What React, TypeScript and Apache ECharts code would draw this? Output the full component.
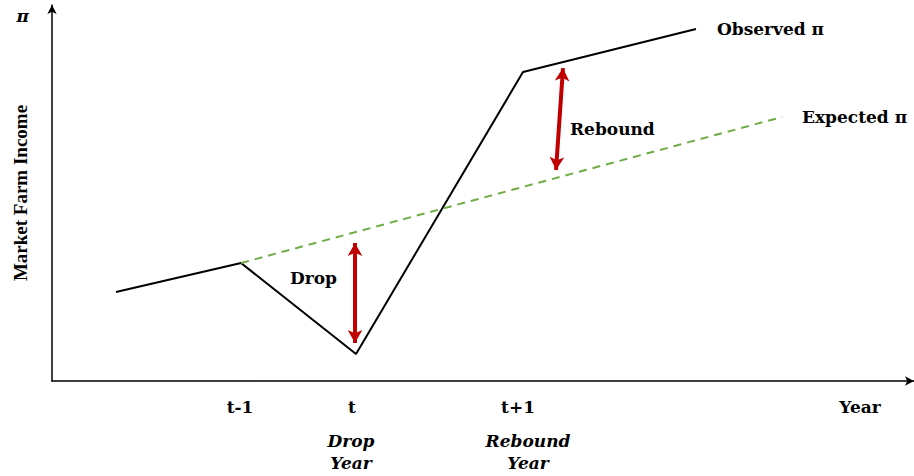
import React, { useEffect, useRef } from "react";
import * as echarts from "echarts";

// Conceptual diagram, axis units 0..100 on both axes
const observedX = [7.42, 21.93, 35.27, 54.64, 74.71];
const observedY = [23.67, 31.38, 7.18, 82.18, 93.62];
const expectedX = [21.93, 84.69];
const expectedY = [31.38, 70.21];

const xTickValues = [21.81, 34.8, 54.06, 93.74];
const xTickLabels = ["t-1", "t", "t+1", "Year"];
const yTickValues = [97.07];
const yTickLabels = ["π"];

const yearNoteX = [34.69, 55.22];
const yearNoteY = [-18.88, -18.88];
const yearNoteText = ["Drop\nYear", "Rebound\nYear"];

const gapNoteX = [27.61, 60.09];
const gapNoteY = [27.39, 67.02];
const gapNoteText = ["Drop", "Rebound"];

const dropArrow = [[35.15, 36.7], [35.15, 10.11]];
const reboundArrow = [[59.28, 83.24], [58.47, 56.12]];

const SERIF = "'DejaVu Serif', serif";

function pick(values: number[], labels: string[], v: number) {
  let best = 0;
  values.forEach((x, i) => {
    if (Math.abs(x - v) < Math.abs(values[best] - v)) best = i;
  });
  return labels[best];
}

export default function App() {
  const ref = useRef<HTMLDivElement>(null);
  useEffect(() => {
    document.body.style.margin = "0";
    const chart = echarts.init(ref.current!, null, { renderer: "svg" });
    const textStyle = { fontFamily: SERIF, fontWeight: "bold", fontSize: 17, color: "#000" };
    const noteStyle = { ...textStyle, textBorderWidth: 0, textBorderColor: "transparent", opacity: 1 };
    chart.setOption({
      animation: false,
      backgroundColor: "#fff",
      grid: { left: 52, right: 0, top: 5, bottom: 95, containLabel: false, outerBoundsMode: "none" },
      xAxis: {
        type: "value",
        min: 0,
        max: 100,
        axisLine: { show: true, symbol: ["none", "arrow"], symbolSize: [7, 9], lineStyle: { color: "#000", width: 1.5 } },
        axisTick: { show: false },
        splitLine: { show: false },
        axisLabel: {
          customValues: xTickValues,
          formatter: (v: number) => pick(xTickValues, xTickLabels, v),
          margin: 17,
          ...textStyle,
        },
      },
      yAxis: {
        type: "value",
        min: 0,
        max: 100,
        name: "Market Farm Income",
        nameLocation: "middle",
        nameRotate: 90,
        nameGap: 22,
        nameMoveOverlap: false,
        nameTextStyle: { fontFamily: "'Liberation Serif', serif", fontWeight: "bold", fontSize: 19, color: "#000" },
        axisLine: { show: true, symbol: ["none", "arrow"], symbolSize: [7, 9], lineStyle: { color: "#000", width: 1.5 } },
        axisTick: { show: false },
        splitLine: { show: false },
        axisLabel: {
          customValues: yTickValues,
          formatter: (v: number) => pick(yTickValues, yTickLabels, v),
          margin: 23,
          fontFamily: SERIF,
          fontWeight: "bold",
          fontStyle: "italic",
          fontSize: 17,
          color: "#000",
        },
      },
      series: [
        {
          type: "line",
          name: "Observed π",
          data: observedX.map((x, i) => [x, observedY[i]]),
          symbol: "none",
          lineStyle: { color: "#000", width: 2 },
          endLabel: { show: true, formatter: "Observed π", distance: 21, ...textStyle },
          markLine: {
            silent: true,
            symbol: ["arrow", "arrow"],
            symbolSize: [11, 13],
            label: { show: false },
            lineStyle: { color: "#C00000", width: 4, type: "solid" },
            data: [
              [{ coord: dropArrow[0] }, { coord: dropArrow[1] }],
              [{ coord: reboundArrow[0] }, { coord: reboundArrow[1] }],
            ],
          },
        },
        {
          type: "line",
          name: "Expected π",
          data: expectedX.map((x, i) => [x, expectedY[i]]),
          symbol: "none",
          lineStyle: { color: "#70AD47", width: 2, type: [8, 6] },
          endLabel: { show: true, formatter: "Expected π", distance: 20, ...textStyle },
        },
        {
          type: "scatter",
          clip: false,
          silent: true,
          symbolSize: 0,
          itemStyle: { color: "#000" },
          data: gapNoteX.map((x, i) => ({ value: [x, gapNoteY[i]], name: gapNoteText[i] })),
          label: { show: true, position: "right", distance: 0, formatter: "{b}", ...noteStyle },
        },
        {
          type: "scatter",
          clip: false,
          silent: true,
          symbolSize: 0,
          itemStyle: { color: "#000" },
          data: yearNoteX.map((x, i) => ({ value: [x, yearNoteY[i]], name: yearNoteText[i] })),
          label: {
            show: true,
            position: "inside",
            formatter: "{b}",
            lineHeight: 22,
            align: "center",
            ...noteStyle,
            fontStyle: "italic",
          },
        },
      ],
    });
    return () => chart.dispose();
  }, []);
  return <div ref={ref} style={{ position: "absolute", left: 0, top: 0, width: 914, height: 476 }} />;
}
